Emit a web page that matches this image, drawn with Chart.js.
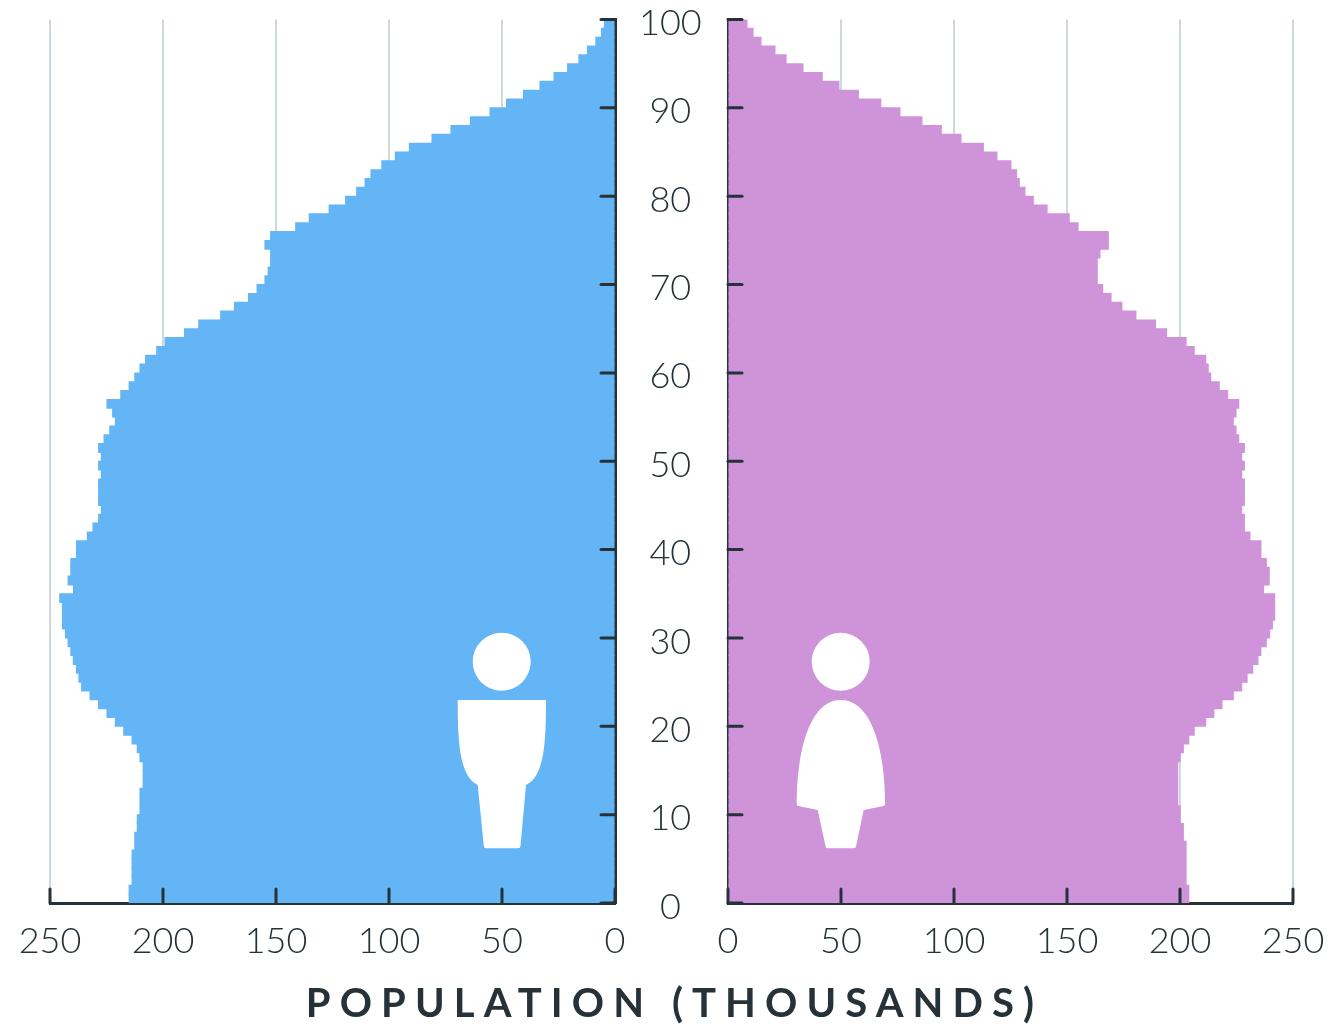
<!DOCTYPE html>
<html>
<head>
<meta charset="utf-8">
<title>Population pyramid</title>
<script src="https://cdn.jsdelivr.net/npm/chart.js@4/dist/chart.umd.min.js"></script>
<style>
    html, body { margin: 0; padding: 0; background: #fff; overflow: hidden; height: 1026px; }
    .wrap { position: absolute; top: -30px; height: 1056px; }
    #wrap-left { left: 0; width: 722px; }
    #wrap-right { left: 640px; width: 760px; }
    #icons { position: absolute; left: 0; top: 0; pointer-events: none; }
    #axis-title {
        position: absolute; left: 0; width: 1349px; top: 978px;
        text-align: center; color: #263238;
        font: 700 40px Lato, sans-serif; letter-spacing: 9.1px; white-space: nowrap;
    }
</style>
</head>
<body>
<div class="wrap" id="wrap-left"><canvas id="chart-left" width="722" height="1056"></canvas></div>
<div class="wrap" id="wrap-right"><canvas id="chart-right" width="760" height="1056"></canvas></div>

<!-- male and female figures -->
<svg id="icons" width="1333" height="1026" fill="#fff">
    <circle cx="501.7" cy="661.7" r="29"/>
    <path d="M458.5 700H545.2Q546 700 546 701C546 745 544 776 526 785L520.5 846Q520.3 848.3 518 848.3H486Q484 848.3 483.8 846L477.7 785C460 776 457.7 745 457.7 701Q457.7 700 458.5 700Z"/>
    <circle cx="840.7" cy="661.7" r="29"/>
    <path d="M840.7 700C872 700 885 750 885 804Q885 805.5 883.5 806L863.7 810L856 846.5Q855.6 848.3 854 848.3H827.5Q826 848.3 825.6 846.5L817.7 810L798.2 806Q796.7 805.5 796.7 804C796.7 750 810 700 840.7 700Z"/>
</svg>

<div id="axis-title">POPULATION (THOUSANDS)</div>

<script>
// Values in thousands, one per year of age, from age 99 down to age 0
const maleValues = [
    4.7, 6, 8.5, 12.2, 16, 21, 27, 33.2, 40.5, 48,
    55.3, 64, 72.6, 81, 91, 97.2, 103.2, 108, 110.6, 114.3,
    119.2, 126.5, 135.3, 141.3, 152.4, 154.9, 152.4, 152.4, 153.5, 154.9,
    158.4, 162.2, 168.4, 174.5, 184.2, 190.5, 199.1, 202.8, 207.7, 210.2,
    212.5, 215, 218.7, 224.8, 222.3, 221.1, 223.6, 226.1, 228.5, 227.3,
    228.5, 227.3, 228.5, 228.5, 228.5, 227.3, 228.5, 231, 233.5, 238.3,
    238.3, 240.8, 240.8, 242, 239.6, 245.7, 244.5, 244.5, 244.5, 243.2,
    242, 240.8, 239.7, 238.3, 237.2, 236, 232.3, 228.5, 224.8, 221.1,
    217.4, 213.7, 211.4, 210.2, 208.8, 208.8, 208.8, 210.2, 210.2, 210.2,
    211.4, 211.4, 212.5, 212.5, 213.7, 213.7, 213.7, 213.7, 215, 215
];
const femaleValues = [
    8.4, 11.1, 14.6, 20.8, 25.7, 33.2, 41.7, 49.1, 57.7, 67.6,
    76.1, 85.8, 94.4, 103.1, 113, 119, 125.2, 127.7, 128.9, 131.4,
    135.1, 141.2, 151, 154.9, 168.3, 168.3, 164.6, 163.4, 163.4, 163.4,
    165.8, 169.5, 174.3, 180.5, 189.2, 194.1, 202.7, 206.3, 211.4, 212.5,
    213.6, 217.4, 221.1, 226, 224.8, 223.6, 224.8, 226, 228.5, 227.3,
    228.5, 227.3, 228.5, 228.5, 228.5, 227.3, 228.5, 228.5, 231, 235.8,
    235.8, 238.2, 239.5, 239.5, 237, 241.9, 241.9, 241.9, 240.9, 239.7,
    238.2, 235.8, 234.5, 232.2, 229.7, 227.3, 223.6, 218.6, 215, 211.4,
    206.3, 203.9, 201.5, 200.1, 199, 199, 199, 199, 199, 200.1,
    200.1, 201.5, 201.5, 202.7, 202.7, 202.7, 202.7, 202.7, 203.9, 203.9
];
const ages = maleValues.map((v, i) => 99 - i);
const ageTicks = [0, 10, 20, 30, 40, 50, 60, 70, 80, 90, 100];

const DARK = '#263238';
const GRID = '#cfd8dc';
const FONT = { family: 'Lato', weight: 300, size: 36 };

// Short dark ticks pointing into the plot, above the bars
const innerTicks = {
    id: 'innerTicks',
    afterDraw(chart) {
        const { ctx, chartArea, scales } = chart;
        const isLeft = scales.y.position === 'right';
        const axisX = isLeft ? chartArea.right : chartArea.left;
        const dir = isLeft ? -1 : 1;
        ctx.save();
        ctx.strokeStyle = DARK;
        ctx.lineWidth = 3;
        ctx.lineCap = 'round';
        scales.x.ticks.forEach(t => {
            const px = scales.x.getPixelForValue(t.value);
            ctx.beginPath();
            ctx.moveTo(px, chartArea.bottom);
            ctx.lineTo(px, chartArea.bottom - 14);
            ctx.stroke();
        });
        scales.y.ticks.forEach(t => {
            const py = scales.y.getPixelForValue(t.value);
            ctx.beginPath();
            ctx.moveTo(axisX, py);
            ctx.lineTo(axisX + dir * 14, py);
            ctx.stroke();
        });
        ctx.restore();
    }
};

function makeChart(id, values, color, left) {
    const scales = {
        x: {
            type: 'linear',
            min: 0,
            max: 250,
            reverse: left,
            afterFit: s => { s.height = 123; },
            ticks: { stepSize: 50, color: DARK, font: FONT, padding: 17, maxRotation: 0 },
            grid: { color: GRID, lineWidth: 2, drawTicks: false },
            border: { color: DARK, width: 3 }
        },
        y: {
            type: 'linear',
            min: 0,
            max: 100,
            offset: false,
            position: left ? 'right' : 'left',
            afterFit: s => { s.width = left ? 0 : 6; },
            ticks: { display: false, stepSize: 10 },
            grid: { display: false, drawTicks: false },
            border: { color: DARK, width: 3 }
        }
    };
    // Age labels sit a little below their ticks, so they get their own shifted axis
    if (left) {
        scales.ageLabels = {
            type: 'linear',
            min: 0.45,
            max: 100.45,
            offset: false,
            position: 'right',
            afterFit: s => { s.width = 107; },
            afterBuildTicks: s => { s.ticks = ageTicks.map(value => ({ value })); },
            ticks: { color: DARK, font: FONT, crossAlign: 'center', padding: 24, autoSkip: false },
            grid: { display: false, drawTicks: false },
            border: { display: false }
        };
    }
    return new Chart(document.getElementById(id), {
        type: 'bar',
        data: {
            datasets: [{
                data: values.map((v, i) => ({ x: v, y: ages[i] + 0.5 })),
                backgroundColor: color,
                barPercentage: 1,
                categoryPercentage: 1,
                inflateAmount: 0.5
            }]
        },
        options: {
            indexAxis: 'y',
            responsive: false,
            animation: false,
            layout: {
                autoPadding: false,
                padding: left ? { left: 50, top: 49.5 } : { left: 82, right: 107, top: 49.5 }
            },
            plugins: { legend: { display: false }, tooltip: { enabled: false } },
            scales
        },
        plugins: [innerTicks]
    });
}

makeChart('chart-left', maleValues, '#64b5f6', true);
makeChart('chart-right', femaleValues, '#ce93d8', false);
</script>
</body>
</html>
